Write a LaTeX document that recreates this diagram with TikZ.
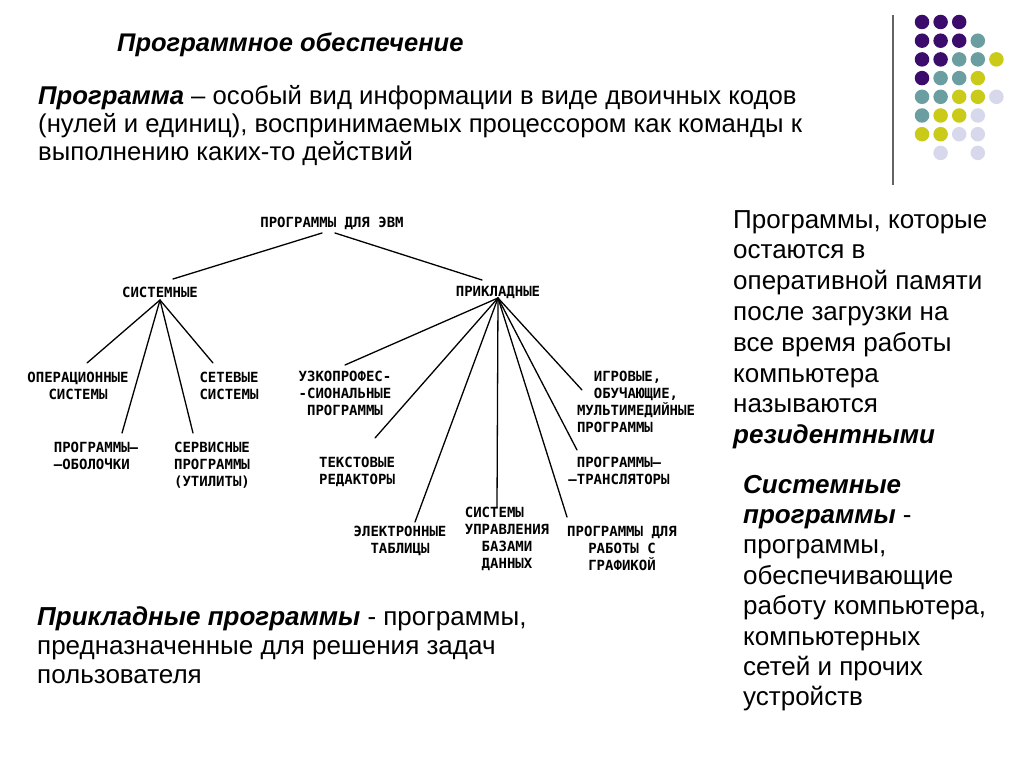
\documentclass[tikz,border=0pt]{standalone}
\usepackage{fontspec}
\setmainfont{Liberation Sans}
\newfontfamily\treefont{DejaVu Sans Mono}
\usetikzlibrary{positioning}

\definecolor{dotPurple}{RGB}{60,12,108}
\definecolor{dotTeal}{RGB}{106,158,160}
\definecolor{dotYellow}{RGB}{202,202,24}
\definecolor{dotLilac}{RGB}{216,216,236}
\definecolor{ruleGray}{RGB}{100,100,100}

\begin{document}
\begin{tikzpicture}[
    x=1pt, y=-1pt,
    headline/.style={anchor=base west, inner sep=0pt, font=\fontsize{25.5}{28}\selectfont\bfseries\itshape},
    body/.style={anchor=base west, inner sep=0pt, align=left},
    leaf/.style={anchor=base, inner sep=0pt, align=center, font=\treefont\bfseries\fontsize{14}{17}\selectfont},
    branch/.style={line width=1.3pt, line cap=round},
    dot/.style={circle, inner sep=0pt, minimum size=14.5pt}
]
\fill[white] (0,0) rectangle (1024,767);
\useasboundingbox (0,0) rectangle (1024,767);

% decoration top right
\draw[ruleGray, line width=1.5pt] (893,15) -- (893,185);
\foreach \c/\r/\col in {0/0/dotPurple,1/0/dotPurple,2/0/dotPurple,
    0/1/dotPurple,1/1/dotPurple,2/1/dotPurple,3/1/dotTeal,
    0/2/dotPurple,1/2/dotPurple,2/2/dotTeal,3/2/dotTeal,4/2/dotYellow,
    0/3/dotPurple,1/3/dotTeal,2/3/dotTeal,3/3/dotYellow,
    0/4/dotTeal,1/4/dotTeal,2/4/dotYellow,3/4/dotYellow,4/4/dotLilac,
    0/5/dotTeal,1/5/dotYellow,2/5/dotYellow,3/5/dotLilac,
    0/6/dotYellow,1/6/dotYellow,2/6/dotLilac,3/6/dotLilac,
    1/7/dotLilac,3/7/dotLilac}
  \node[dot, fill=\col] (d\c\r) at (922+18.6*\c, 22+18.7*\r) {};

% texts (base = last line)
\node[headline] (title) at (117,52) {Программное обеспечение};
\node[body, font=\fontsize{25.7}{28}\selectfont] (def) at (38,161)
  {\textbf{\textit{Программа}} – особый вид информации в виде двоичных кодов\\
   (нулей и единиц), воспринимаемых процессором как команды к\\
   выполнению каких-то действий};
\node[body, font=\fontsize{26}{30.8}\selectfont] (resid) at (733,443.6)
  {Программы, которые\\остаются в\\оперативной памяти\\после загрузки на\\
   все время работы\\компьютера\\называются\\\textbf{\textit{резидентными}}};
\node[body, font=\fontsize{26}{30.4}\selectfont] (sysdef) at (743,705.8)
  {\textbf{\textit{Системные}}\\\textbf{\textit{программы}} -\\программы,\\обеспечивающие\\
   работу компьютера,\\компьютерных\\сетей и прочих\\устройств};
\node[body, font=\fontsize{26}{29}\selectfont] (appdef) at (37,683)
  {\textbf{\textit{Прикладные программы}} - программы,\\
   предназначенные для решения задач\\пользователя};

% tree
\node[leaf] (root) at (332,227) {ПРОГРАММЫ ДЛЯ ЭВМ};
\node[leaf] (sys) at (160,297) {СИСТЕМНЫЕ};
\node[leaf] (app) at (498,296) {ПРИКЛАДНЫЕ};
\coordinate[below=3pt of sys.base] (sysHub);
\coordinate[below=2pt of app.base] (appHub);

\node[leaf] (os) at (78,399) {ОПЕРАЦИОННЫЕ\\СИСТЕМЫ};
\node[leaf] (net) at (229,399) {СЕТЕВЫЕ\\СИСТЕМЫ};
\node[leaf, align=left] (shell) at (96,469) {ПРОГРАММЫ–\\–ОБОЛОЧКИ};
\node[leaf] (util) at (212,486) {СЕРВИСНЫЕ\\ПРОГРАММЫ\\(УТИЛИТЫ)};

\node[leaf] (prof) at (345,415) {УЗКОПРОФЕС-\\-СИОНАЛЬНЫЕ\\ПРОГРАММЫ};
\node[leaf] (txt) at (357,484) {ТЕКСТОВЫЕ\\РЕДАКТОРЫ};
\node[leaf] (sheet) at (400,553) {ЭЛЕКТРОННЫЕ\\ТАБЛИЦЫ};
\node[leaf] (dbms) at (507,568) {СИСТЕМЫ\phantom{ЛЕН}\\УПРАВЛЕНИЯ\\БАЗАМИ\\ДАННЫХ};
\node[leaf] (graph) at (622,570) {ПРОГРАММЫ ДЛЯ\\РАБОТЫ С\\ГРАФИКОЙ};
\node[leaf] (trans) at (619,484) {ПРОГРАММЫ–\\–ТРАНСЛЯТОРЫ};
\node[leaf, align=left] (game) at (636,432) {\phantom{ММ}ИГРОВЫЕ,\\\phantom{ММ}ОБУЧАЮЩИЕ,\\МУЛЬТИМЕДИЙНЫЕ\\ПРОГРАММЫ};

\draw[branch] ([shift={(-10,6)}]root.base) -- ([shift={(13,-18)}]sys.base);
\draw[branch] ([shift={(3,6)}]root.base) -- ([shift={(-16,-16)}]app.base);

\draw[branch] (sysHub) -- ([shift={(9,-36)}]os.base);
\draw[branch] (sysHub) -- ([shift={(-16,-36)}]net.base);
\draw[branch] (sysHub) -- ([shift={(26,-36)}]shell.base);
\draw[branch] (sysHub) -- ([shift={(-19,-53)}]util.base);

\draw[branch] (appHub) -- ([shift={(0,-50)}]prof.base);
\draw[branch] (appHub) -- ([shift={(18,-46)}]txt.base);
\draw[branch] (appHub) -- ([shift={(15,-31)}]sheet.base);
\draw[branch] (appHub) -- ([shift={(-10,-61)}]dbms.base);
\draw[branch] (appHub) -- ([shift={(-55,-53)}]graph.base);
\draw[branch] (appHub) -- ([shift={(-42,-34)}]trans.base);
\draw[branch] (appHub) -- ([shift={(-54,-42)}]game.base);
\end{tikzpicture}
\end{document}
